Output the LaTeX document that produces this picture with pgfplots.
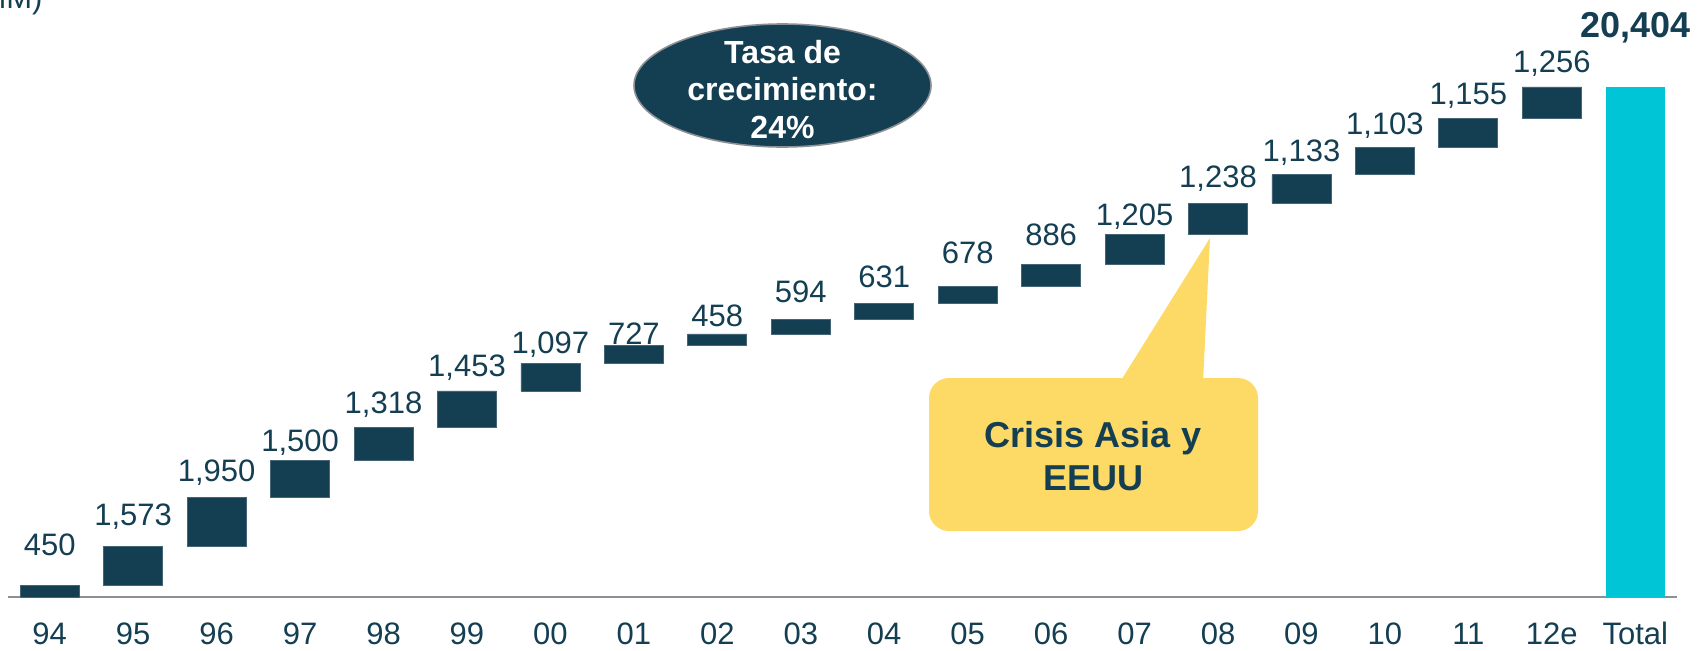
\documentclass[border=0pt]{standalone}
\usepackage{pgfplots}
\usepackage{pgfplotstable}
\pgfplotsset{compat=1.18}
\usepackage{fontspec}
\setmainfont{Liberation Sans}
\definecolor{dark}{HTML}{143E52}
\definecolor{tcyan}{HTML}{00C5D7}
\definecolor{axgrey}{HTML}{8C8F93}
\definecolor{callout}{HTML}{FDD966}

% x: position, base: invisible part, d: visible increment, tot: total bar, lab: label, gap: label offset above bar top (pt)
\pgfplotstableread{
x base d tot lab gap
0 0 450 0 450 15
1 450 1573 0 1,573 10.5
2 2023 1950 0 1,950 8
3 3973 1500 0 1,500 4.5
4 5473 1318 0 1,318 7
5 6791 1453 0 1,453 7
6 8244 1097 0 1,097 5
7 9341 727 0 727 0.5
8 10068 458 0 458 3.5
9 10526 594 0 594 8.5
10 11120 631 0 631 8
11 11751 678 0 678 11.5
12 12429 886 0 886 9.5
13 13315 1205 0 1,205 4.5
14 14520 1238 0 1,238 8
15 15758 1133 0 1,133 6.5
16 16891 1103 0 1,103 6.5
17 17994 1155 0 1,155 7
18 19149 1256 0 1,256 7
19 0 0 20404 {} 0
}\data

\begin{document}
\begin{tikzpicture}
\path[use as bounding box] (0,0) rectangle (854pt,325pt);
\begin{axis}[
  at={(4pt,26.5pt)}, anchor=south west,
  scale only axis, width=834.5pt, height=298.5pt,
  xmin=-0.5, xmax=19.5, ymin=0, ymax=23885,
  ybar stacked, bar width=29.5pt,
  axis x line*=bottom, axis y line=none,
  x axis line style={draw=axgrey, line width=1.3pt},
  xtick={0,...,19},
  xticklabels={94,95,96,97,98,99,00,01,02,03,04,05,06,07,08,09,10,11,12e,Total},
  xtick style={draw=none},
  xticklabel style={anchor=base, yshift=-23.5pt, font=\fontsize{15.5}{18}\selectfont, text=dark},
  ytick=\empty,
  clip=false,
]
\addplot[draw=none, fill=none] table[x=x, y=base] {\data};
\addplot[fill=dark, draw=dark!80!white, line width=0.4pt,
  point meta=explicit symbolic,
  visualization depends on={\thisrow{gap}+0.0062487*\thisrow{d} \as \gap},
  nodes near coords,
  nodes near coords style={anchor=base, yshift=\gap pt, inner sep=0pt,
    font=\fontsize{15.5}{18}\selectfont, text=dark},
] table[x=x, y=d, meta=lab] {\data};
\addplot[fill=tcyan, draw=none] table[x=x, y=tot] {\data};
\node[anchor=base, font=\fontsize{18}{21}\selectfont\bfseries, text=dark, yshift=25pt]
  at (axis cs:19,20404) {20,404};
\end{axis}
% partial title at the top-left corner (cut by the frame, as in the original)
\node[anchor=base east, font=\fontsize{15.5}{18}\selectfont, text=dark, inner sep=0pt]
  at (21.5pt,320.8pt) {(US\$ MM)};
% growth-rate ellipse
\draw[fill=dark, draw=axgrey, line width=0.8pt] (391.25pt,282.25pt) ellipse [x radius=74.25pt, y radius=30.75pt];
\node[anchor=base, align=center, text=white, inner sep=0pt,
  font=\fontsize{16}{18.75}\selectfont\bfseries]
  at (391.25pt,256pt) {Tasa de\\crecimiento:\\24\%};
% callout
\fill[callout, rounded corners=10pt] (464.5pt,59.5pt) rectangle (629pt,136pt);
\fill[callout] (560pt,134pt) -- (605pt,206pt) -- (601.5pt,134pt) -- cycle;
\node[anchor=base, align=center, text=dark, inner sep=0pt,
  font=\fontsize{18}{21.5}\selectfont\bfseries]
  at (546.5pt,80pt) {Crisis Asia y\\EEUU};
\end{tikzpicture}
\end{document}
